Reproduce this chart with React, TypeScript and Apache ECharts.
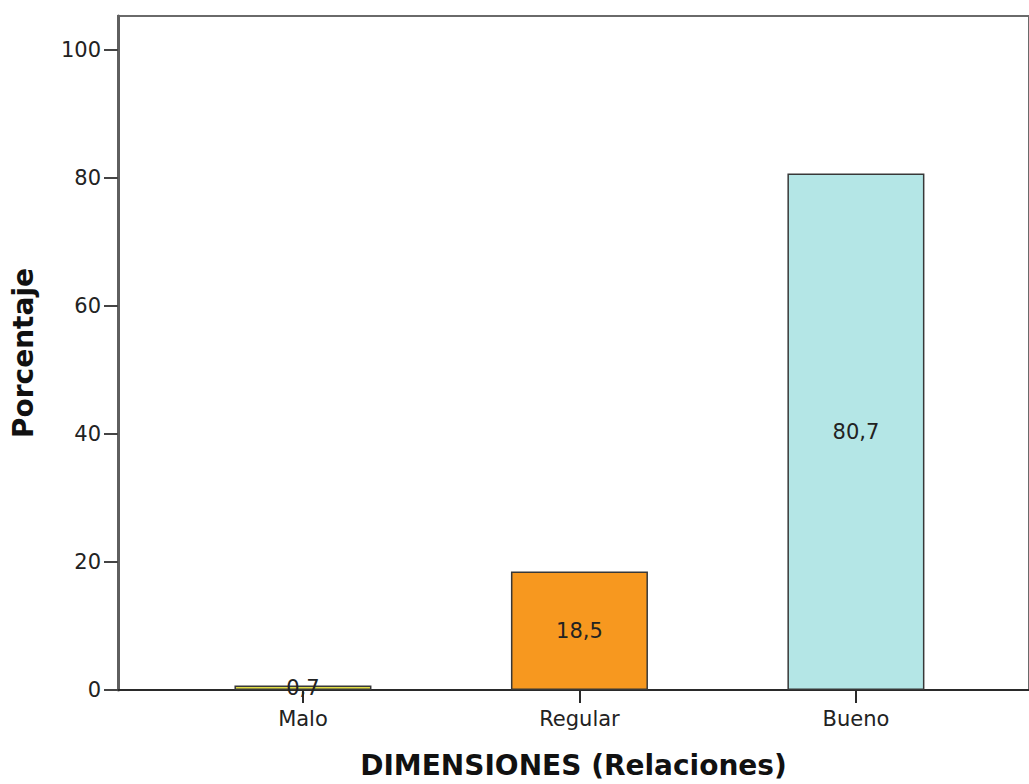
import React, { useEffect, useRef } from "react";
import * as echarts from "echarts";

const categories = ["Malo", "Regular", "Bueno"];
const values = [0.7, 18.5, 80.7];
const barColors = ["#e3de45", "#f7981f", "#b4e6e6"];
const yTicks = [0, 20, 40, 60, 80, 100];

export default function App() {
  const ref = useRef<HTMLDivElement>(null);
  useEffect(() => {
    if (!ref.current) return;
    const chart = echarts.init(ref.current, null, { renderer: "svg" });
    const font = "DejaVu Sans, Verdana, sans-serif";
    chart.setOption({
      animation: false,
      backgroundColor: "#ffffff",
      grid: {
        left: 118,
        top: 16,
        right: 0,
        bottom: 93,
        show: true,
        borderColor: "#6a6a6a",
        borderWidth: 2,
        containLabel: false,
      },
      xAxis: {
        type: "value",
        min: -0.669,
        max: 2.626,
        splitLine: { show: false },
        axisLine: { show: true, onZero: false, lineStyle: { color: "#2a2a2a", width: 2 } },
        axisTick: {
          show: true,
          customValues: [0, 1, 2],
          length: 13,
          lineStyle: { color: "#2a2a2a", width: 2 },
        },
        axisLabel: {
          customValues: [0, 1, 2],
          formatter: (v: number) => categories[Math.round(v)] ?? "",
          fontFamily: font,
          fontSize: 21,
          color: "#222",
          margin: 18,
        },
        name: "DIMENSIONES (Relaciones)",
        nameLocation: "middle",
        nameGap: 61,
        nameTextStyle: { fontFamily: font, fontSize: 28, fontWeight: "bold", color: "#111" },
      },
      yAxis: {
        type: "value",
        min: 0,
        max: 105.3,
        splitLine: { show: false },
        axisLine: { show: true, onZero: false, lineStyle: { color: "#5f5f5f", width: 3 } },
        axisTick: {
          show: true,
          customValues: yTicks,
          length: 14,
          lineStyle: { color: "#444", width: 2 },
        },
        axisLabel: {
          customValues: yTicks,
          fontFamily: font,
          fontSize: 21,
          color: "#222",
          margin: 17,
        },
        name: "Porcentaje",
        nameLocation: "middle",
        nameGap: 81,
        nameTextStyle: { fontFamily: font, fontSize: 28, fontWeight: "bold", color: "#111" },
      },
      series: [
        {
          type: "bar",
          barWidth: 137,
          data: values.map((v, i) => ({
            value: [i, v],
            itemStyle: { color: barColors[i], borderColor: "#383838", borderWidth: 1.5 },
          })),
          label: {
            show: true,
            position: "inside",
            formatter: (p: any) => String(p.value[1]).replace(".", ","),
            fontFamily: font,
            fontSize: 21,
            color: "#222",
          },
        },
      ],
    });
    return () => chart.dispose();
  }, []);
  return (
    <div
      ref={ref}
      style={{ position: "fixed", left: 0, top: 0, width: 1029, height: 784 }}
    />
  );
}
